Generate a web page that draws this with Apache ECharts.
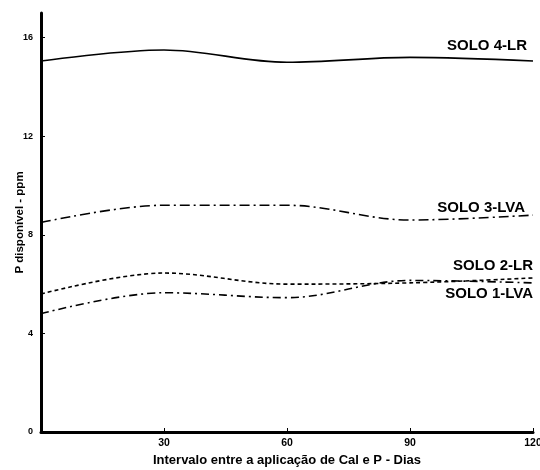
<!DOCTYPE html>
<html><head><meta charset="utf-8">
<script src="https://cdn.jsdelivr.net/npm/echarts@6/dist/echarts.min.js"></script>
<style>html,body{margin:0;padding:0;background:#fff}#c{width:540px;height:470px}</style>
</head><body><div id="c"></div>
<script>
const days = [0, 30, 60, 90, 120];
const solo4 = [15.05, 15.5, 15.0, 15.2, 15.05];
const solo3 = [8.5, 9.2, 9.2, 8.6, 8.8];
const solo2 = [5.6, 6.45, 6.0, 6.05, 6.25];
const solo1 = [4.8, 5.65, 5.45, 6.15, 6.05];
const names = ['SOLO 4-LR', 'SOLO 3-LVA', 'SOLO 2-LR', 'SOLO 1-LVA'];
const yTicks = [0, 4, 8, 12, 16];
const xTicks = [30, 60, 90, 120];

const font = '"Liberation Sans", Arial, sans-serif';
function pts(arr){ return days.map((d,i)=>[d, arr[i]]); }
function mk(name, arr, dash, lblOff){
  return {
    name, type:'line', data: pts(arr), smooth:0.35, symbol:'none',
    lineStyle:{color:'#000', width:1.6, type: dash},
    endLabel:{show:true, formatter:name, color:'#000', fontFamily:font, fontSize:15, fontWeight:'bold',
      align:'right', verticalAlign:'middle', offset:lblOff},
    emphasis:{disabled:true}, animation:false
  };
}
const chart = echarts.init(document.getElementById('c'));
chart.setOption({
  animation:false,
  grid:{left:41, right:7, top:13, bottom:38, containLabel:false, outerBoundsMode:'none'},
  xAxis:{type:'value', min:0, max:120, interval:30,
    name:'Intervalo entre a aplicação de Cal e P - Dias', nameLocation:'middle', nameGap:22,
    nameMoveOverlap:false,
    nameTextStyle:{color:'#000', fontFamily:font, fontSize:13, fontWeight:'bold'},
    axisLine:{lineStyle:{color:'#000', width:3}},
    axisTick:{inside:true, length:4, lineStyle:{color:'#000', width:1}},
    axisLabel:{color:'#000', fontFamily:font, fontSize:10.5, fontWeight:'bold', margin:6,
      formatter:v=> xTicks.includes(v) ? String(v) : ''},
    splitLine:{show:false}},
  yAxis:{type:'value', min:0, max:17, interval:4,
    name:'P disponível - ppm', nameLocation:'middle', nameGap:15,
    nameMoveOverlap:false,
    nameTextStyle:{color:'#000', fontFamily:font, fontSize:11.5, fontWeight:'bold'},
    axisLine:{show:true, lineStyle:{color:'#000', width:3}},
    axisTick:{show:true, inside:true, length:4, lineStyle:{color:'#000', width:1}},
    axisLabel:{color:'#000', fontFamily:font, fontSize:9, fontWeight:'bold', margin:8,
      formatter:v=> yTicks.includes(v) ? String(v) : '', showMaxLabel:false},
    splitLine:{show:false}},
  series:[
    mk(names[0], solo4, 'solid', [-14,-15]),
    mk(names[1], solo3, [10,4,2,4], [-16,-7]),
    mk(names[2], solo2, [4,3], [-8,-12]),
    mk(names[3], solo1, [8,4,2,4], [-8,11])
  ]
});
</script></body></html>
